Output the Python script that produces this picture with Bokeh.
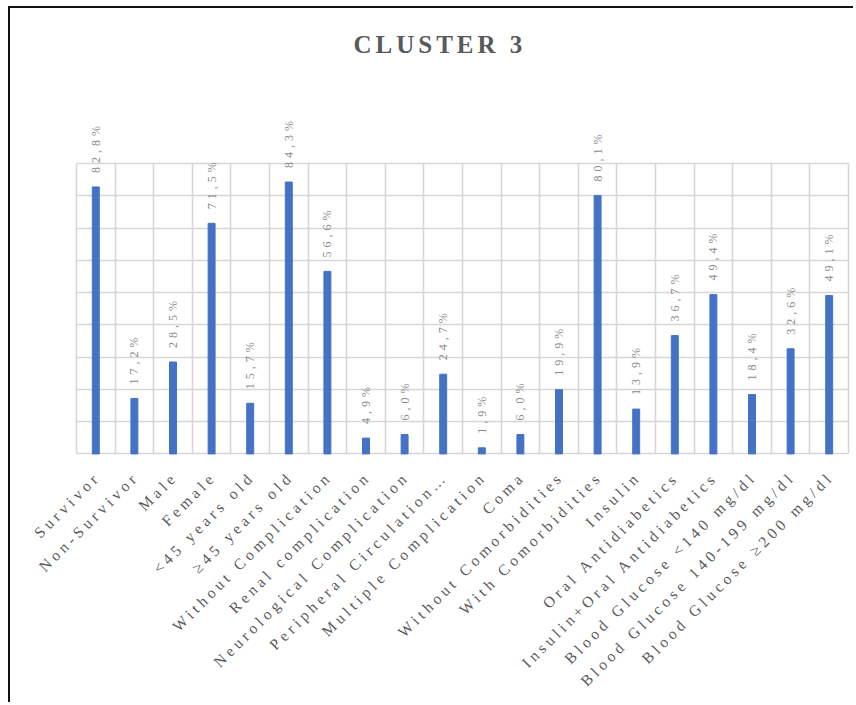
import math
from bokeh.plotting import figure
from bokeh.models import (ColumnDataSource, Range1d, FixedTicker, LabelSet)
from bokeh.embed import file_html
from bokeh.resources import INLINE

categories = [
    "Survivor", "Non-Survivor", "Male", "Female", "<45 years old", "\u226545 years old",
    "Without Complication", "Renal complication", "Neurological Complication",
    "Peripheral Circulation\u2026", "Multiple Complication", "Coma",
    "Without Comorbidities", "With Comorbidities", "Insulin", "Oral Antidiabetics",
    "Insulin+Oral Antidiabetics", "Blood Glucose <140 mg/dl",
    "Blood Glucose 140-199 mg/dl", "Blood Glucose \u2265200 mg/dl",
]
values = [82.8, 17.2, 28.5, 71.5, 15.7, 84.3, 56.6, 4.9, 6.0, 24.7,
          1.9, 6.0, 19.9, 80.1, 13.9, 36.7, 49.4, 18.4, 32.6, 49.1]
value_labels = ["82,8%", "17,2%", "28,5%", "71,5%", "15,7%", "84,3%", "56,6%",
                "4,9%", "6,0%", "24,7%", "1,9%", "6,0%", "19,9%", "80,1%",
                "13,9%", "36,7%", "49,4%", "18,4%", "32,6%", "49,1%"]
title_text = "CLUSTER 3"
y_max = 90
y_step = 10

# ---- layout (pixels) ----
W, H = 845, 696
grid_left, grid_right = 66, 838
frame_top = 63
grid_top, grid_bottom = 150, 443
letter_spacing = 4
n = len(categories)
unit_x = (grid_right - grid_left) / n
x_start = -grid_left / unit_x
x_end = n + (W - grid_right) / unit_x
grid_px = grid_bottom - grid_top
y_end = y_max * (grid_bottom - frame_top) / grid_px
y_start = -y_max * (H - grid_bottom) / grid_px

# category centres on a numeric axis (index + 0.5)
xs = [i + 0.5 for i in range(n)]
# compensate letter-spacing for end-anchored diagonal labels
diag = math.cos(math.pi / 4)
dx = [-1 - (len(c) - 1) * letter_spacing * diag for c in categories]
dy = [-23 - (len(c) - 1) * letter_spacing * diag for c in categories]

src = ColumnDataSource(dict(x=xs, cat=categories, val=values, lab=value_labels,
                            zero=[0] * n, dx=dx, dy=dy))
grid_color = "#d6d6d6"

p = figure(width=W, height=H, output_backend="svg", toolbar_location=None,
           x_range=Range1d(x_start, x_end), y_range=Range1d(y_start, y_end),
           min_border_left=0, min_border_right=0, min_border_top=frame_top,
           min_border_bottom=0)
p.styles = {"border-left": "2px solid #111", "border-top": "2px solid #111",
            "margin-left": "8px", "margin-top": "6px",
            "letter-spacing": f"{letter_spacing}px"}

p.title.text = title_text
p.title.align = "left"
p.title.offset = 343
p.title.text_font = "Liberation Serif"
p.title.text_font_style = "bold"
p.title.text_font_size = "25px"
p.title.text_color = "#595959"
p.title.standoff = 40

p.vbar(x="x", top="val", bottom=0, width=0.18, source=src, color="#4472c4")

value_lbls = LabelSet(x="x", y="val", text="lab", source=src, angle=math.pi / 2,
                      text_align="left", text_baseline="middle", y_offset=14,
                      text_font="Liberation Serif", text_font_size="12px",
                      text_color="#8c8c8c")
p.add_layout(value_lbls)

cat_lbls = LabelSet(x="x", y="zero", text="cat", source=src, angle=math.pi / 4,
                    text_align="right", text_baseline="middle",
                    x_offset="dx", y_offset="dy",
                    text_font="Liberation Serif", text_font_size="15.5px",
                    text_color="#595959")
p.add_layout(cat_lbls)

p.xgrid.ticker = FixedTicker(ticks=list(range(n + 1)))
p.xgrid.cross_bounds = (0, y_max)
p.ygrid.ticker = FixedTicker(ticks=list(range(0, y_max + 1, y_step)))
p.ygrid.cross_bounds = (0, n)
p.grid.grid_line_color = grid_color
p.grid.grid_line_width = 1.6

p.xaxis.visible = False
p.yaxis.visible = False
p.outline_line_color = None

open("out.html", "w").write(file_html(p, INLINE))
